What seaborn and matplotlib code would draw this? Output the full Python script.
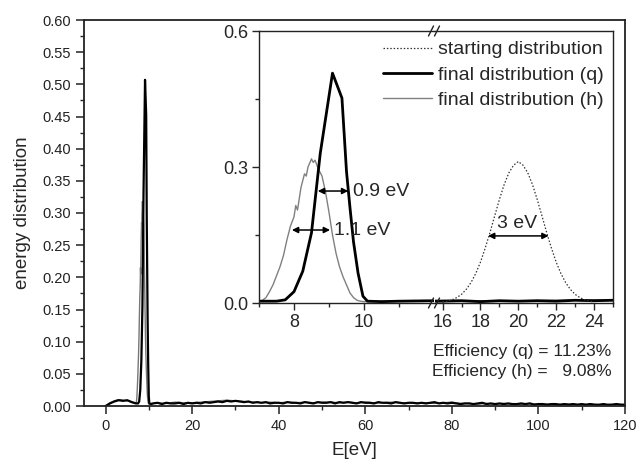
import numpy as np
import matplotlib
matplotlib.use("Agg")
import matplotlib.pyplot as plt
from matplotlib.ticker import MultipleLocator, FixedLocator
from matplotlib.lines import Line2D
import seaborn as sns

# ---- data ----
# low energy shoulder (0-6 eV)
low_e = [0, 1, 2, 3, 4, 5, 6]
low_q = [0.0, 0.004, 0.007, 0.009, 0.008, 0.009, 0.006]
low_h = [0.0, 0.005, 0.008, 0.010, 0.009, 0.008, 0.007]

# final distribution (q) around the peak
q_peak_e = [7.0, 7.5, 7.75, 8.0, 8.25, 8.5, 8.75, 9.1, 9.37, 9.5, 9.6, 9.7, 9.83, 9.97, 10.1, 10.5]
q_peak_v = [0.004, 0.004, 0.007, 0.025, 0.07, 0.155, 0.33, 0.507, 0.452, 0.29, 0.21, 0.135, 0.066, 0.015, 0.004, 0.003]

# final distribution (h) around the peak
h_peak_e = [7.0, 7.1, 7.2, 7.3, 7.4, 7.5, 7.6, 7.7, 7.8, 7.9, 8.0, 8.05, 8.1, 8.2, 8.3, 8.35,
            8.4, 8.5, 8.55, 8.6, 8.7, 8.8, 8.9, 9.0, 9.1, 9.2, 9.3, 9.4, 9.5, 9.6, 9.7, 9.8,
            9.9, 10.0, 10.5]
h_peak_v = [0.004, 0.006, 0.012, 0.025, 0.04, 0.06, 0.08, 0.105, 0.14, 0.17, 0.19, 0.215, 0.205,
            0.255, 0.285, 0.28, 0.30, 0.318, 0.31, 0.315, 0.295, 0.28, 0.245, 0.20, 0.15, 0.11,
            0.08, 0.058, 0.04, 0.022, 0.012, 0.006, 0.004, 0.003, 0.004]

# high energy tail (q), 11..120 eV
q_tail_e = list(range(11, 121))
q_tail_v = [0.004, 0.005, 0.003, 0.005, 0.004, 0.004, 0.005, 0.003, 0.005, 0.004,
            0.005, 0.004, 0.006, 0.005, 0.006, 0.007, 0.006, 0.008, 0.007, 0.008,
            0.007, 0.006, 0.007, 0.005, 0.006, 0.005, 0.006, 0.004, 0.005, 0.005,
            0.004, 0.006, 0.005, 0.005, 0.004, 0.006, 0.005, 0.004, 0.006, 0.005,
            0.005, 0.006, 0.004, 0.006, 0.005, 0.006, 0.005, 0.004, 0.006, 0.005,
            0.005, 0.004, 0.006, 0.005, 0.005, 0.004, 0.006, 0.005, 0.004, 0.005,
            0.005, 0.004, 0.005, 0.004, 0.005, 0.006, 0.004, 0.005, 0.004, 0.005,
            0.004, 0.003, 0.004, 0.004, 0.003, 0.004, 0.005, 0.003, 0.004, 0.003,
            0.004, 0.003, 0.004, 0.003, 0.003, 0.004, 0.003, 0.004, 0.002, 0.003,
            0.003, 0.002, 0.003, 0.003, 0.002, 0.003, 0.002, 0.003, 0.002, 0.003,
            0.002, 0.003, 0.002, 0.002, 0.003, 0.002, 0.002, 0.003, 0.002, 0.002]

# high energy tail (h), 12..120 eV
h_tail_e = list(range(12, 121, 2))
h_tail_v = [0.005, 0.004, 0.006, 0.005, 0.005, 0.006, 0.007, 0.008, 0.009, 0.008,
            0.007, 0.006, 0.005, 0.006, 0.005, 0.006, 0.005, 0.006, 0.005, 0.006,
            0.006, 0.005, 0.006, 0.005, 0.006, 0.005, 0.005, 0.006, 0.005, 0.005,
            0.005, 0.005, 0.004, 0.005, 0.006, 0.004, 0.004, 0.003, 0.004, 0.003,
            0.004, 0.003, 0.003, 0.004, 0.003, 0.003, 0.002, 0.003, 0.003, 0.002,
            0.003, 0.002, 0.002, 0.003, 0.002]

# starting distribution (inset only)
start_e = [16.0, 16.25, 16.5, 16.75, 17.0, 17.25, 17.5, 17.75, 18.0, 18.25, 18.5, 18.75,
           19.0, 19.25, 19.5, 19.75, 20.0, 20.25, 20.5, 20.75, 21.0, 21.25, 21.5, 21.75,
           22.0, 22.25, 22.5, 22.75, 23.0, 23.25, 23.5, 23.75, 24.0]
start_v = [0.002, 0.004, 0.007, 0.012, 0.019, 0.030, 0.045, 0.065, 0.090, 0.121, 0.155, 0.192,
           0.228, 0.261, 0.287, 0.304, 0.312, 0.304, 0.287, 0.261, 0.228, 0.192, 0.155, 0.121,
           0.090, 0.065, 0.045, 0.030, 0.019, 0.012, 0.007, 0.004, 0.002]

legend_labels = ["starting distribution", "final distribution (q)", "final distribution (h)"]
eff_labels = ["Efficiency (q) = 11.23%", "Efficiency (h) =   9.08%"]

# ---- assemble series ----
q_e = np.concatenate([low_e, q_peak_e, q_tail_e])
q_v = np.concatenate([low_q, q_peak_v, q_tail_v])
h_e = np.concatenate([low_e, h_peak_e, h_tail_e])
h_v = np.concatenate([low_h, h_peak_v, h_tail_v])

sns.set_style("ticks")
plt.rcParams['font.family'] = ['Liberation Sans', 'DejaVu Sans']

fig = plt.figure(figsize=(6.37, 4.67), dpi=100)

# main axes
ax = fig.add_axes([84 / 637, 61 / 467, 541 / 637, 386 / 467])
sns.lineplot(x=h_e, y=h_v, ax=ax, color='#777777', lw=1.0, legend=False, errorbar=None)
sns.lineplot(x=q_e, y=q_v, ax=ax, color='black', lw=1.6, legend=False, errorbar=None)
ax.set_xlim(-5, 120)
ax.set_ylim(0, 0.6)
ax.xaxis.set_major_locator(MultipleLocator(20))
ax.xaxis.set_minor_locator(MultipleLocator(10))
ax.yaxis.set_major_locator(MultipleLocator(0.05))
ax.yaxis.set_minor_locator(MultipleLocator(0.025))
ax.yaxis.set_major_formatter(plt.FormatStrFormatter('%.2f'))
ax.tick_params(which='major', direction='out', length=6, width=1.1, labelsize=10.5, colors='#222222')
ax.tick_params(which='minor', direction='out', length=3, width=1.0)
ax.set_xlabel("E[eV]", fontsize=13.5, labelpad=6)
ax.set_ylabel("energy distribution", fontsize=13.5, labelpad=8)
for s in ax.spines.values():
    s.set_linewidth(1.3)
    s.set_color('#222222')

for i, txt in enumerate(eff_labels):
    ax.text(116.8, 0.085 - i * 0.031, txt, ha='right', va='center', fontsize=12.5)

# inset: broken x axis as two panels
axl = fig.add_axes([259 / 637, 164 / 467, 175 / 637, 272 / 467])
axr = fig.add_axes([435 / 637, 164 / 467, 178 / 637, 272 / 467])

for a in (axl, axr):
    sns.lineplot(x=h_e, y=h_v, ax=a, color='#808080', lw=1.0, legend=False, errorbar=None)
    h_line = a.lines[-1]
    sns.lineplot(x=q_e, y=q_v, ax=a, color='black', lw=2.0, legend=False, errorbar=None)
    q_line = a.lines[-1]
    a.set_ylim(0, 0.6)
    a.set_xlabel("")
    a.set_ylabel("")
    for s in a.spines.values():
        s.set_linewidth(1.0)
        s.set_color('#222222')
sns.lineplot(x=start_e, y=start_v, ax=axr, color='#333333', lw=0.9, legend=False,
             errorbar=None, linestyle=(0, (1.2, 1.5)))
s_line = axr.lines[-1]

axl.set_xlim(7, 12)
axr.set_xlim(15.6, 25)
axl.spines['right'].set_visible(False)
axr.spines['left'].set_visible(False)

axl.yaxis.set_major_locator(MultipleLocator(0.3))
axl.yaxis.set_minor_locator(MultipleLocator(0.15))
axl.yaxis.set_major_formatter(plt.FormatStrFormatter('%.1f'))
axl.xaxis.set_major_locator(FixedLocator([8, 10]))
axl.xaxis.set_minor_locator(FixedLocator([7, 9, 11]))
axr.xaxis.set_major_locator(FixedLocator([16, 18, 20, 22, 24]))
axr.xaxis.set_minor_locator(FixedLocator([17, 19, 21, 23, 25]))
for a in (axl, axr):
    a.tick_params(which='major', direction='out', length=5, width=1.0, labelsize=13, pad=3)
    a.tick_params(which='minor', direction='out', length=3, width=1.0)
axr.tick_params(axis='y', which='both', left=False, labelleft=False)

# break marks "//" on top and bottom edges
for ypix in (436, 164):
    for xpix in (431, 437):
        fig.add_artist(Line2D([(xpix - 2.5) / 637, (xpix + 2.5) / 637],
                              [(ypix - 5) / 467, (ypix + 5) / 467],
                              color='#222222', lw=1.0, zorder=10))

# width arrows
arrow = dict(arrowstyle='<|-|>', color='black', lw=1.1, mutation_scale=9, shrinkA=0, shrinkB=0)
axl.annotate('', xy=(8.68, 0.247), xytext=(9.55, 0.247), arrowprops=arrow)
axl.text(9.68, 0.247, "0.9 eV", ha='left', va='center', fontsize=14)
axl.annotate('', xy=(7.94, 0.161), xytext=(9.03, 0.161), arrowprops=arrow)
axl.text(9.15, 0.161, "1.1 eV", ha='left', va='center', fontsize=14)
axr.annotate('', xy=(18.4, 0.148), xytext=(21.6, 0.148), arrowprops=arrow)
axr.text(19.95, 0.176, "3 eV", ha='center', va='center', fontsize=14)

# legend
axr.legend([s_line, q_line, h_line], legend_labels,
           loc='upper right', frameon=False, fontsize=14, handlelength=2.5,
           handletextpad=0.3, labelspacing=0.4, borderaxespad=0.3, borderpad=0.2)

fig.savefig("out.png", dpi=100)
